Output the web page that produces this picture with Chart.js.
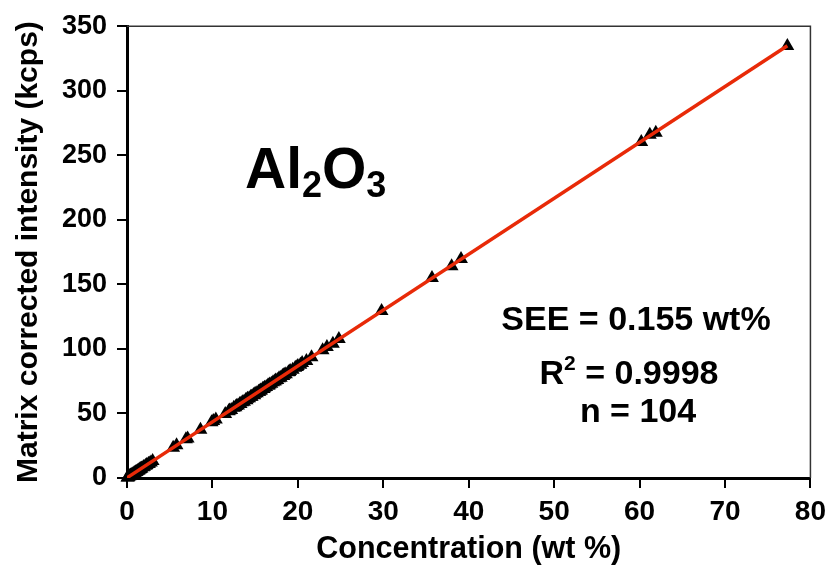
<!DOCTYPE html>
<html>
<head>
<meta charset="utf-8">
<script src="https://cdn.jsdelivr.net/npm/chart.js@4.4.1/dist/chart.umd.min.js"></script>
<style>
  body { margin: 0; background: #fff; }
  #wrap { width: 833px; height: 578px; position: relative; }
</style>
</head>
<body>
<div id="wrap"><canvas id="calChart"></canvas></div>
<script>
// measured standards: concentration (wt %) vs matrix corrected intensity (kcps)
const concentration = [
  0.05, 0.1, 0.15, 0.2, 0.3, 0.35, 0.4, 0.45, 0.5, 0.6, 0.7, 0.8, 0.9, 1.0, 1.1,
  1.2, 1.3, 1.4, 1.5, 1.6, 1.7, 1.9, 2.0, 2.2, 2.3, 2.5, 2.6, 2.8, 3.0,
  5.4, 5.8, 6.9, 7.1, 8.6, 9.9, 10.1, 10.4,
  11.5, 11.9, 12.0, 12.2, 12.5, 12.7, 12.8, 13.0, 13.2, 13.3, 13.5, 13.7, 13.9, 14.0,
  14.1, 14.3, 14.5, 14.6, 14.8, 14.9, 15.0, 15.2, 15.4, 15.5, 15.6, 15.7, 15.9, 16.0,
  16.1, 16.3, 16.5, 16.6, 16.7, 16.9, 17.1, 17.3, 17.4, 17.6, 17.8, 18.0, 18.2, 18.3,
  18.4, 18.6, 18.9, 19.0, 19.1, 19.4, 19.7, 19.9, 20.0, 20.3, 20.5, 21.0,
  21.6, 22.9, 23.4, 24.1, 24.8,
  29.8, 35.7, 38.0, 39.1, 60.2, 61.2, 61.9, 77.3
];
const intensity = [
  0.3, 0.5, 0.6, 0.9, 1.4, 1.5, 1.7, 2.0, 2.1, 2.7, 3.0, 3.4, 3.9, 4.4, 4.7,
  5.3, 5.6, 6.0, 6.6, 6.9, 7.3, 8.3, 8.7, 9.4, 10.0, 10.9, 11.2, 12.0, 13.1,
  23.5, 25.3, 30.1, 30.6, 37.4, 43.2, 44.1, 45.3,
  49.6, 51.8, 52.3, 52.6, 54.4, 54.8, 55.7, 56.1, 57.4, 57.3, 58.6, 59.1, 60.5, 60.3,
  61.3, 61.7, 63.0, 63.0, 64.3, 64.2, 65.2, 65.6, 66.9, 66.9, 67.8, 67.7, 69.1, 69.0,
  70.0, 70.4, 71.6, 71.7, 72.5, 73.0, 74.2, 74.7, 75.6, 76.0, 77.3, 77.7, 79.0, 79.0,
  79.9, 80.3, 82.0, 82.1, 82.9, 83.8, 85.5, 85.9, 86.8, 87.7, 89.0, 90.7,
  93.5, 99.0, 101.5, 104.0, 107.6,
  129.3, 155.0, 164.0, 169.6, 260.3, 265.9, 267.5, 334.6
];
// regression line end points
const fitX = [0, 77.3];
const fitY = [0.2, 334.8];

const xTicks = [0, 10, 20, 30, 40, 50, 60, 70, 80];
const yTicks = [0, 50, 100, 150, 200, 250, 300, 350];

const FONT = "'Liberation Sans', Arial, sans-serif";

// frame on top/right plus text labels
const decorations = {
  id: 'decorations',
  afterDraw(chart) {
    const { ctx, chartArea: a } = chart;
    ctx.save();
    ctx.strokeStyle = '#333';
    ctx.lineWidth = 1.5;
    ctx.beginPath();
    ctx.moveTo(a.left, a.top);
    ctx.lineTo(a.right, a.top);
    ctx.lineTo(a.right, a.bottom);
    ctx.stroke();

    ctx.fillStyle = '#000';
    ctx.textBaseline = 'alphabetic';
    // Al2O3
    let x = 245;
    const big = 'bold 57px ' + FONT, small = 'bold 36px ' + FONT;
    [['Al', big, 0], ['2', small, 9], ['O', big, 0], ['3', small, 9]].forEach(([t, f, dy]) => {
      ctx.font = f;
      ctx.textAlign = 'left';
      ctx.fillText(t, x, 188 + dy);
      x += ctx.measureText(t).width;
    });

    ctx.textAlign = 'center';
    ctx.font = 'bold 34px ' + FONT;
    ctx.fillText('SEE = 0.155 wt%', 636, 330);
    ctx.fillText('n = 104', 638, 422);

    // R² line
    const parts = [['R', 'bold 34px ' + FONT, 0], ['2', 'bold 21px ' + FONT, -14], [' = 0.9998', 'bold 34px ' + FONT, 0]];
    let w = 0;
    parts.forEach(([t, f]) => { ctx.font = f; w += ctx.measureText(t).width; });
    x = 629 - w / 2;
    ctx.textAlign = 'left';
    parts.forEach(([t, f, dy]) => {
      ctx.font = f;
      ctx.fillText(t, x, 384 + dy);
      x += ctx.measureText(t).width;
    });
    ctx.restore();
  }
};

const ctx = document.getElementById('calChart').getContext('2d');
new Chart(ctx, {
  type: 'scatter',
  data: {
    datasets: [
      {
        type: 'line',
        data: fitX.map((x, i) => ({ x: x, y: fitY[i] })),
        borderColor: 'rgb(232, 42, 8)',
        borderWidth: 3.5,
        pointRadius: 0,
        fill: false,
        order: 0
      },
      {
        data: concentration.map((x, i) => ({ x: x, y: intensity[i] })),
        pointStyle: 'triangle',
        pointRadius: 8,
        backgroundColor: '#000',
        borderColor: '#000',
        borderWidth: 0,
        clip: false,
        order: 1
      }
    ]
  },
  options: {
    responsive: true,
    maintainAspectRatio: false,
    animation: false,
    layout: { padding: { top: 22, right: 19, left: 0, bottom: 0 } },
    plugins: { legend: { display: false }, tooltip: { enabled: false } },
    scales: {
      x: {
        type: 'linear',
        min: 0, max: 80,
        afterFit(scale) { scale.height = 100; },
        afterBuildTicks(scale) { scale.ticks = xTicks.map(v => ({ value: v })); },
        grid: { drawOnChartArea: false, drawTicks: true, tickLength: 10, color: '#000', lineWidth: 2 },
        border: { display: true, color: '#000', width: 3 },
        ticks: { color: '#000', padding: 7, maxRotation: 0, font: { family: FONT, size: 28, weight: 'bold' } },
        title: {
          display: true, text: 'Concentration (wt %)', color: '#000',
          padding: { top: 0, bottom: 10 },
          font: { family: FONT, size: 30.5, weight: 'bold' }
        }
      },
      y: {
        type: 'linear',
        min: 0, max: 350,
        afterFit(scale) { scale.width = 127; },
        afterBuildTicks(scale) { scale.ticks = yTicks.map(v => ({ value: v })); },
        grid: { drawOnChartArea: false, drawTicks: true, tickLength: 10, color: '#000', lineWidth: 2 },
        border: { display: true, color: '#000', width: 3 },
        ticks: { color: '#000', padding: 10, font: { family: FONT, size: 27, weight: 'bold' } },
        title: {
          display: true, text: 'Matrix corrected intensity (kcps)', color: '#000',
          padding: { top: 11, bottom: 0 },
          font: { family: FONT, size: 30, weight: 'bold' }
        }
      }
    }
  },
  plugins: [decorations]
});
</script>
</body>
</html>
